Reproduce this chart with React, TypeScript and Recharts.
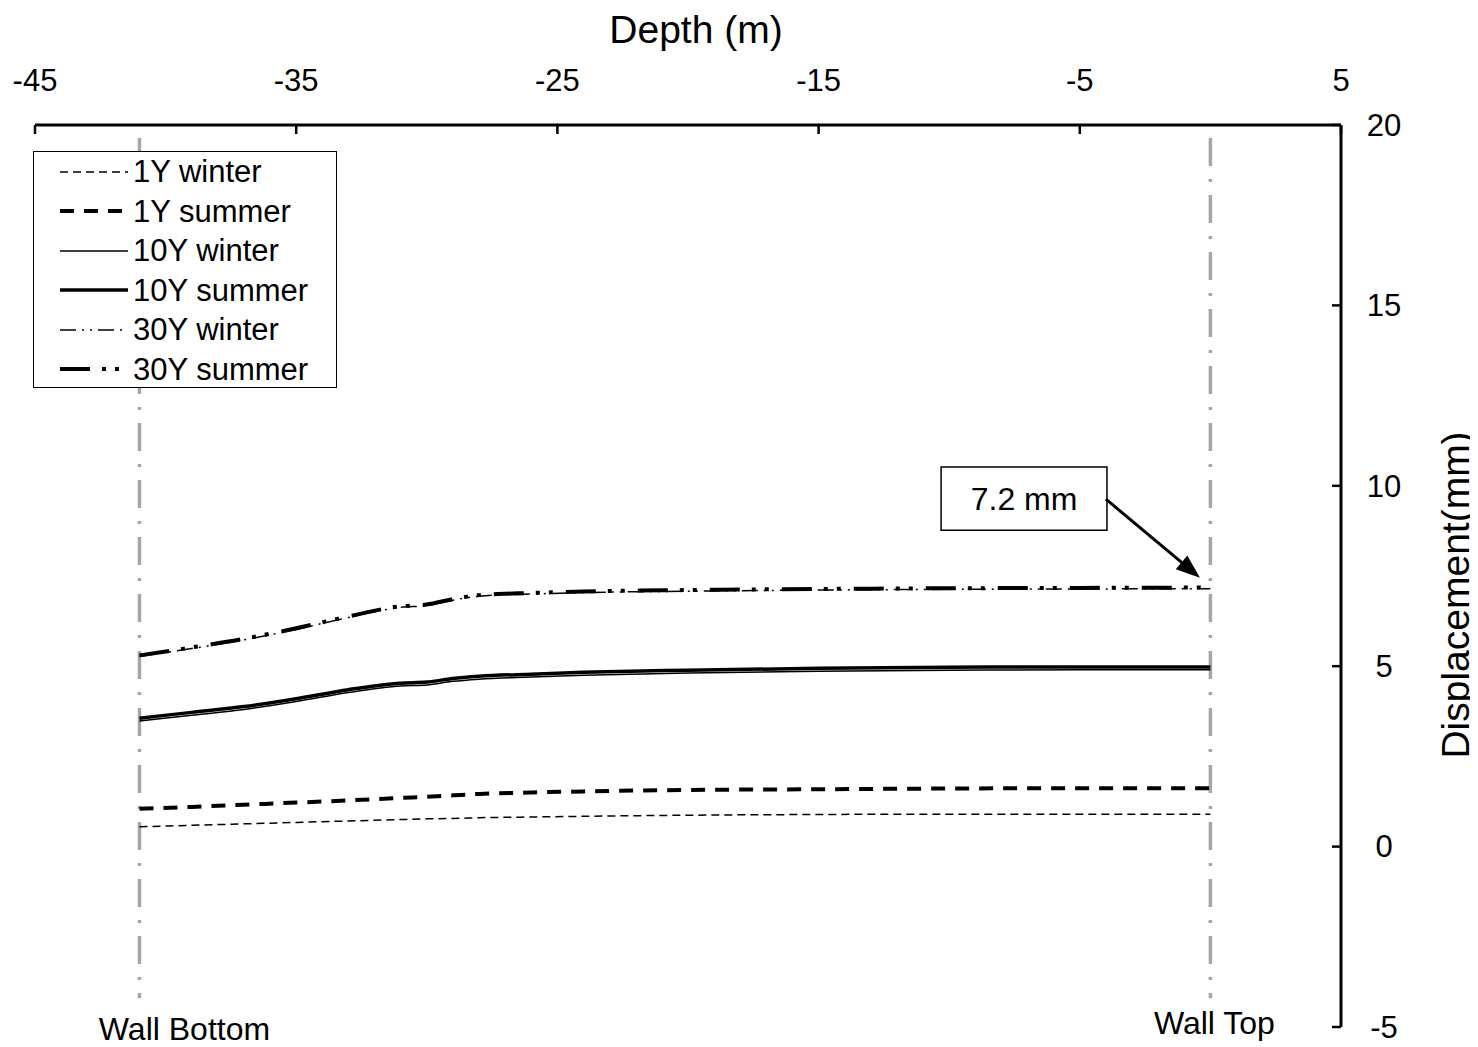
import React from 'react';
import { LineChart, Line, XAxis, YAxis, ReferenceLine, ReferenceArea, Legend } from 'recharts';

const FONT = '"Liberation Sans", Arial, sans-serif';

// Depth (m) positions along the wall
const depths = [-41, -39, -37, -35, -33, -31, -30, -29, -28, -26, -24, -20, -15, -10, -5, 0];

// Displacement (mm)
const y1Winter = [0.55, 0.59, 0.63, 0.67, 0.71, 0.75, 0.77, 0.78, 0.8, 0.82, 0.84, 0.87, 0.89, 0.9, 0.9, 0.9];
const y1Summer = [1.05, 1.1, 1.16, 1.22, 1.28, 1.35, 1.38, 1.42, 1.46, 1.5, 1.53, 1.57, 1.59, 1.61, 1.62, 1.62];
const y10Winter = [3.48, 3.64, 3.8, 4.02, 4.27, 4.45, 4.48, 4.58, 4.64, 4.7, 4.75, 4.81, 4.86, 4.89, 4.9, 4.9];
const y10Summer = [3.56, 3.72, 3.88, 4.1, 4.35, 4.53, 4.56, 4.66, 4.72, 4.78, 4.83, 4.89, 4.94, 4.97, 4.98, 4.98];
const y30Winter = [5.27, 5.49, 5.73, 6.02, 6.35, 6.63, 6.68, 6.83, 6.94, 7.0, 7.04, 7.08, 7.11, 7.13, 7.14, 7.15];
const y30Summer = [5.3, 5.52, 5.76, 6.05, 6.38, 6.66, 6.71, 6.86, 6.97, 7.03, 7.07, 7.11, 7.14, 7.16, 7.17, 7.18];

const xTicks = [-45, -35, -25, -15, -5, 5];
const yTicks = [-5, 0, 5, 10, 15, 20];

const wallBottom = -41;
const wallTop = 0;
const peakLabel = '7.2 mm';

const seriesDefs = [
  { key: 's1', name: '1Y summer', values: y1Summer, width: 4, dash: '14 10' },
  { key: 'w1', name: '1Y winter', values: y1Winter, width: 1.5, dash: '8 5' },
  { key: 's10', name: '10Y summer', values: y10Summer, width: 3.5, dash: undefined },
  { key: 'w10', name: '10Y winter', values: y10Winter, width: 1.5, dash: undefined },
  { key: 's30', name: '30Y summer', values: y30Summer, width: 4, dash: '30 12 4 9 4 13' },
  { key: 'w30', name: '30Y winter', values: y30Winter, width: 1.5, dash: '16 6 2 6 2 6' },
];
const legendOrder = ['w1', 's1', 'w10', 's10', 'w30', 's30'];

const data = depths.map((d, i) => {
  const row: any = { depth: d };
  seriesDefs.forEach((s) => {
    row[s.key] = s.values[i];
  });
  return row;
});

const XTick = (props: any) => {
  const { x, y, payload } = props;
  return (
    <g>
      <line x1={x} y1={y} x2={x} y2={y + 9} stroke="#000" strokeWidth={2.5} />
      <text x={x} y={y - 34} textAnchor="middle" fontSize={31} fontFamily={FONT} fill="#000">
        {payload.value}
      </text>
    </g>
  );
};

const YTick = (props: any) => {
  const { x, y, payload } = props;
  return (
    <g>
      <line x1={x - 9} y1={y} x2={x} y2={y} stroke="#000" strokeWidth={2.5} />
      <text x={x + 43} y={y} dy="0.35em" textAnchor="middle" fontSize={31} fontFamily={FONT} fill="#000">
        {payload.value}
      </text>
    </g>
  );
};

const LegendBox = () => (
  <div
    style={{
      width: 304,
      height: 237,
      border: '1.5px solid #000',
      boxSizing: 'border-box',
      background: '#fff',
      fontFamily: FONT,
      fontSize: 31,
      color: '#000',
    }}
  >
    {legendOrder.map((k) => {
      const s = seriesDefs.find((d) => d.key === k)!;
      return (
        <div key={k} style={{ height: 39.5, display: 'flex', alignItems: 'center' }}>
          <svg width={99} height={20} style={{ display: 'block', flex: 'none' }}>
            <line x1={26} y1={10} x2={94} y2={10} stroke="#000" strokeWidth={s.width} strokeDasharray={s.dash} />
          </svg>
          <span style={{ lineHeight: '39.5px', whiteSpace: 'nowrap' }}>{s.name}</span>
        </div>
      );
    })}
  </div>
);

const ArrowShape = (props: any) => {
  const { x1, y1, x2, y2 } = props;
  if ([x1, y1, x2, y2].some((v) => typeof v !== 'number')) return null;
  const ang = Math.atan2(y2 - y1, x2 - x1);
  const L = 24;
  const W = 9;
  const c = Math.cos(ang);
  const s = Math.sin(ang);
  const bx = x2 - L * c;
  const by = y2 - L * s;
  return (
    <g>
      <line x1={x1} y1={y1} x2={bx + 2 * c} y2={by + 2 * s} stroke="#000" strokeWidth={3} />
      <polygon points={`${x2},${y2} ${bx + W * s},${by - W * c} ${bx - W * s},${by + W * c}`} fill="#000" />
    </g>
  );
};

const wallLabel = (text: string, dx: number, dy: number) => (props: any) => {
  const vb = props.viewBox || {};
  const x = (vb.x ?? 0) + dx;
  const y = (vb.y ?? 0) + (vb.height ?? 0) + dy;
  return (
    <text x={x} y={y} dy="0.35em" textAnchor="middle" fontSize={32} fontFamily={FONT} fill="#000">
      {text}
    </text>
  );
};

const xTitle = (props: any) => {
  const vb = props.viewBox || {};
  return (
    <text x={vb.x + vb.width / 2 + 8} y={vb.y - 22} textAnchor="middle" fontSize={39} fontFamily={FONT} fill="#000">
      Depth (m)
    </text>
  );
};

const yTitle = (props: any) => {
  const vb = props.viewBox || {};
  const cx = vb.x + 114;
  const cy = vb.y + vb.height / 2 + 19;
  return (
    <text
      x={cx}
      y={cy}
      dy="0.35em"
      textAnchor="middle"
      fontSize={39}
      fontFamily={FONT}
      fill="#000"
      transform={`rotate(-90 ${cx} ${cy})`}
    >
      Displacement(mm)
    </text>
  );
};

export default function App() {
  return (
    <LineChart
      width={1470}
      height={1039}
      data={data}
      margin={{ top: 57, right: 37, bottom: 20, left: 27 }}
      style={{ fontFamily: FONT, overflow: 'visible' }}
    >
      <XAxis
        type="number"
        dataKey="depth"
        orientation="top"
        height={60}
        domain={[-45, 5]}
        ticks={xTicks}
        interval={0}
        tickSize={0}
        tickMargin={0}
        tick={<XTick />}
        axisLine={{ stroke: '#000', strokeWidth: 3 }}
        label={{ content: xTitle }}
      />
      <YAxis
        type="number"
        orientation="right"
        width={100}
        domain={[-5, 20]}
        ticks={yTicks}
        interval={0}
        tickSize={0}
        tickMargin={0}
        tick={<YTick />}
        axisLine={{ stroke: '#000', strokeWidth: 3 }}
        label={{ content: yTitle }}
      />
      <ReferenceLine
        segment={[
          { x: wallBottom, y: 20 },
          { x: wallBottom, y: -4.2 },
        ]}
        stroke="#A6A6A6"
        strokeWidth={3.5}
        strokeDasharray="28 13 3 13"
        strokeDashoffset={44}
        label={{ content: wallLabel('Wall Bottom', 45, 31) }}
      />
      <ReferenceLine
        segment={[
          { x: wallTop, y: 20 },
          { x: wallTop, y: -4.2 },
        ]}
        stroke="#A6A6A6"
        strokeWidth={3.5}
        strokeDasharray="28 13 3 13"
        strokeDashoffset={44}
        label={{ content: wallLabel('Wall Top', 4, 25) }}
      />
      {seriesDefs.map((s) => (
        <Line
          key={s.key}
          type="monotone"
          dataKey={s.key}
          name={s.name}
          stroke="#000"
          strokeWidth={s.width}
          strokeDasharray={s.dash}
          dot={false}
          activeDot={false}
          isAnimationActive={false}
        />
      ))}
      <ReferenceArea
        x1={-10.31}
        x2={-3.96}
        y1={8.77}
        y2={10.52}
        fill="#fff"
        fillOpacity={1}
        stroke="#000"
        strokeWidth={1.5}
        label={{ value: peakLabel, position: 'center', fontSize: 32, fontFamily: FONT, fill: '#000' }}
      />
      <ReferenceLine
        segment={[
          { x: -4.0, y: 9.63 },
          { x: -0.4, y: 7.45 },
        ]}
        stroke="#000"
        shape={ArrowShape}
      />
      <Legend
        layout="vertical"
        align="center"
        verticalAlign="middle"
        content={<LegendBox />}
        wrapperStyle={{ left: 25, top: 143, width: 304, height: 237 }}
      />
    </LineChart>
  );
}
